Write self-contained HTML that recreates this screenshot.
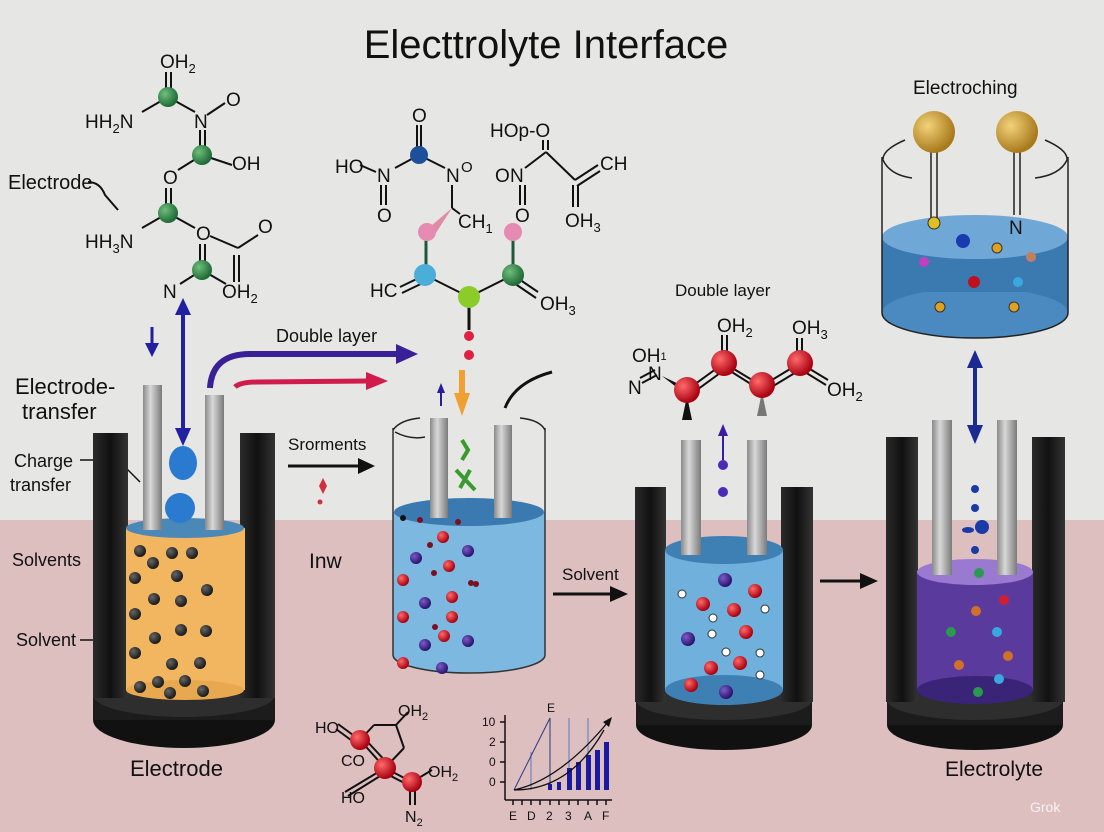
<!DOCTYPE html>
<html><head><meta charset="utf-8"><style>
html,body{margin:0;padding:0;background:#e6e6e4;}
svg{display:block;font-family:"Liberation Sans",sans-serif;}
</style></head><body>
<svg width="1104" height="832" viewBox="0 0 1104 832" xmlns="http://www.w3.org/2000/svg">
<defs>
<radialGradient id="gr" cx="35%" cy="35%" r="65%"><stop offset="0" stop-color="#ff6a6a"/><stop offset="1" stop-color="#a80010"/></radialGradient>
<radialGradient id="gg" cx="35%" cy="35%" r="65%"><stop offset="0" stop-color="#6fbf7c"/><stop offset="1" stop-color="#1f6a36"/></radialGradient>
<radialGradient id="gk" cx="35%" cy="35%" r="65%"><stop offset="0" stop-color="#666"/><stop offset="1" stop-color="#1a1a1a"/></radialGradient>
<radialGradient id="gp" cx="35%" cy="35%" r="65%"><stop offset="0" stop-color="#7a5cc8"/><stop offset="1" stop-color="#2a136e"/></radialGradient>
<radialGradient id="gau" cx="35%" cy="35%" r="65%"><stop offset="0" stop-color="#f3d27a"/><stop offset="1" stop-color="#a87a1c"/></radialGradient>
<linearGradient id="rod" x1="0" x2="1"><stop offset="0" stop-color="#8a8a8a"/><stop offset=".4" stop-color="#d8d8d8"/><stop offset="1" stop-color="#7a7a7a"/></linearGradient>
<linearGradient id="wall" x1="0" x2="1"><stop offset="0" stop-color="#2a2a2a"/><stop offset=".5" stop-color="#111"/><stop offset="1" stop-color="#333"/></linearGradient>
</defs>
<rect x="0" y="0" width="1104" height="520" fill="#e6e6e4"/>
<rect x="0" y="520" width="1104" height="312" fill="#ddbfc0"/>

<text x="546" y="58" font-size="40" text-anchor="middle" fill="#111">Electtrolyte Interface</text>

<!-- molecule 1 -->
<g stroke="#111" stroke-width="2" fill="none">
<line x1="166" y1="72" x2="166" y2="90"/><line x1="171" y1="72" x2="171" y2="90"/>
<line x1="168" y1="97" x2="142" y2="112"/><line x1="168" y1="97" x2="195" y2="112"/>
<line x1="207" y1="115" x2="225" y2="103"/>
<line x1="200" y1="130" x2="200" y2="148"/><line x1="205" y1="130" x2="205" y2="148"/>
<line x1="202" y1="155" x2="232" y2="165"/><line x1="202" y1="155" x2="178" y2="170"/>
<line x1="166" y1="188" x2="166" y2="206"/><line x1="171" y1="188" x2="171" y2="206"/>
<line x1="168" y1="213" x2="142" y2="228"/><line x1="168" y1="213" x2="195" y2="228"/>
<line x1="210" y1="236" x2="238" y2="248"/><line x1="238" y1="248" x2="258" y2="235"/>
<line x1="234" y1="255" x2="234" y2="282"/><line x1="239" y1="255" x2="239" y2="282"/>
<line x1="200" y1="244" x2="200" y2="264"/><line x1="205" y1="244" x2="205" y2="264"/>
<line x1="202" y1="270" x2="180" y2="284"/><line x1="202" y1="270" x2="226" y2="284"/>
<path d="M88 182 Q100 182 105 195 L118 210"/>
</g>
<g font-size="19" fill="#111">
<text x="160" y="68">OH<tspan font-size="13" dy="5">2</tspan></text>
<text x="85" y="128">HH<tspan font-size="13" dy="5">2</tspan><tspan dy="-5">N</tspan></text>
<text x="194" y="128">N</text><text x="226" y="106">O</text>
<text x="232" y="170">OH</text><text x="163" y="184">O</text>
<text x="85" y="248">HH<tspan font-size="13" dy="5">3</tspan><tspan dy="-5">N</tspan></text>
<text x="196" y="240">O</text><text x="258" y="233">O</text>
<text x="163" y="298">N</text><text x="222" y="298">OH<tspan font-size="13" dy="5">2</tspan></text>
<text x="8" y="189" font-size="20">Electrode</text>
</g>
<circle cx="168" cy="97" r="10" fill="url(#gg)"/><circle cx="202" cy="155" r="10" fill="url(#gg)"/>
<circle cx="168" cy="213" r="10" fill="url(#gg)"/><circle cx="202" cy="270" r="10" fill="url(#gg)"/>

<!-- molecule 2 -->
<g stroke="#111" stroke-width="2" fill="none">
<line x1="417" y1="125" x2="417" y2="148"/><line x1="421" y1="125" x2="421" y2="148"/>
<line x1="419" y1="155" x2="395" y2="168"/><line x1="419" y1="155" x2="445" y2="168"/>
<line x1="360" y1="165" x2="376" y2="172"/>
<line x1="381" y1="185" x2="381" y2="205"/><line x1="386" y1="185" x2="386" y2="205"/>
<line x1="452" y1="185" x2="452" y2="208"/><line x1="452" y1="208" x2="460" y2="214"/>
<line x1="543" y1="140" x2="543" y2="150"/><line x1="548" y1="140" x2="548" y2="150"/>
<line x1="546" y1="152" x2="525" y2="168"/><line x1="546" y1="152" x2="575" y2="180"/>
<line x1="575" y1="180" x2="598" y2="165"/><line x1="577" y1="186" x2="600" y2="171"/>
<line x1="573" y1="185" x2="573" y2="207"/><line x1="578" y1="185" x2="578" y2="207"/>
<line x1="520" y1="185" x2="520" y2="205"/><line x1="525" y1="185" x2="525" y2="205"/>
<line x1="425" y1="275" x2="400" y2="287"/><line x1="427" y1="281" x2="402" y2="293"/>
<line x1="425" y1="275" x2="469" y2="297"/><line x1="469" y1="297" x2="513" y2="275"/>
<line x1="513" y1="275" x2="538" y2="292"/><line x1="511" y1="281" x2="536" y2="298"/>
</g>
<g stroke="#1d5a3a" stroke-width="3"><line x1="426" y1="240" x2="426" y2="268"/><line x1="513" y1="240" x2="513" y2="268"/></g>
<line x1="469" y1="300" x2="469" y2="330" stroke="#111" stroke-width="3"/>
<path d="M424 232 L452 208 L434 236 Z" fill="#e08aa8"/>
<g font-size="19" fill="#111">
<text x="412" y="122">O</text><text x="335" y="173">HO</text><text x="377" y="182">N</text>
<text x="377" y="222">O</text><text x="446" y="182">N</text><text x="461" y="172" font-size="15">O</text>
<text x="458" y="228">CH<tspan font-size="13" dy="5">1</tspan></text>
<text x="490" y="137">HOp-O</text><text x="495" y="182">O</text><text x="510" y="182">N</text>
<text x="600" y="170">CH</text><text x="515" y="222">O</text>
<text x="565" y="227">OH<tspan font-size="13" dy="5">3</tspan></text>
<text x="370" y="297">HC</text><text x="540" y="310">OH<tspan font-size="13" dy="5">3</tspan></text>
</g>
<circle cx="427" cy="232" r="9" fill="#e58ab0"/><circle cx="513" cy="232" r="9" fill="#e58ab0"/>
<circle cx="425" cy="275" r="11" fill="#4aaed8"/><circle cx="513" cy="275" r="11" fill="url(#gg)"/>
<circle cx="469" cy="297" r="11" fill="#8ccc2a"/>
<circle cx="469" cy="336" r="5" fill="#e02040"/><circle cx="469" cy="355" r="5" fill="#e02040"/>
<circle cx="419" cy="155" r="9" fill="#1d4f9a"/>

<!-- arrows upper-left -->
<g fill="#2020a0" stroke="#2020a0">
<line x1="152" y1="327" x2="152" y2="345" stroke-width="3"/><path d="M145 343 L159 343 L152 357 Z" stroke="none"/>
<line x1="183" y1="312" x2="183" y2="432" stroke-width="4"/>
<path d="M175 315 L191 315 L183 298 Z" stroke="none"/><path d="M175 428 L191 428 L183 446 Z" stroke="none"/>
</g>
<path d="M210 388 Q212 354 250 354 L398 354" stroke="#3a2096" stroke-width="6" fill="none"/>
<path d="M396 344 L418 354 L396 364 Z" fill="#3a2096"/>
<path d="M235 387 Q240 382 258 382 L368 381" stroke="#d01c4c" stroke-width="5" fill="none"/>
<path d="M366 372 L388 381 L366 390 Z" fill="#d01c4c"/>
<text x="276" y="342" font-size="18" fill="#111">Double layer</text>
<line x1="441" y1="406" x2="441" y2="392" stroke="#2a1ca0" stroke-width="2"/><path d="M437 393 L445 393 L441 383 Z" fill="#2a1ca0"/>
<rect x="459" y="370" width="6" height="25" fill="#f0a030"/><path d="M454 393 L470 393 L462 416 Z" fill="#f0a030"/>
<path d="M505 408 Q515 382 552 372" stroke="#111" stroke-width="3" fill="none"/>

<!-- left labels -->
<g fill="#111">
<text x="15" y="394" font-size="22">Electrode-</text><text x="22" y="419" font-size="22">transfer</text>
<text x="14" y="467" font-size="18">Charge</text><text x="10" y="491" font-size="18">transfer</text>
<text x="12" y="566" font-size="18">Solvents</text><text x="16" y="646" font-size="18">Solvent</text>
<text x="130" y="776" font-size="22">Electrode</text>
<text x="309" y="568" font-size="21">Inw</text>
<text x="288" y="450" font-size="17">Srorments</text>
<text x="562" y="580" font-size="17">Solvent</text>
<text x="675" y="296" font-size="17">Double layer</text>
<text x="913" y="94" font-size="19">Electroching</text>
<text x="945" y="776" font-size="21">Electrolyte</text>
</g>
<g stroke="#111" stroke-width="1.5" fill="none">
<path d="M80 460 L118 460 L140 482"/><path d="M95 559 L118 559"/><path d="M97 564 L105 575 L105 590"/><path d="M80 640 L118 640"/>
</g>

<!-- beaker 1 -->
<ellipse cx="184" cy="720" rx="91" ry="28" fill="#111"/>
<rect x="93" y="695" width="182" height="25" fill="#1c1c1c"/>
<ellipse cx="184" cy="695" rx="91" ry="22" fill="#2e2e2e"/>
<rect x="93" y="433" width="35" height="265" fill="url(#wall)"/>
<rect x="240" y="433" width="35" height="265" fill="url(#wall)"/>
<rect x="126" y="528" width="119" height="162" fill="#f3b660"/>
<ellipse cx="185" cy="690" rx="59" ry="10" fill="#e8a850"/>
<ellipse cx="185" cy="528" rx="59" ry="10" fill="#4a88b8"/>
<rect x="143" y="385" width="19" height="145" fill="url(#rod)"/>
<rect x="205" y="395" width="19" height="135" fill="url(#rod)"/>
<ellipse cx="183" cy="463" rx="14" ry="17" fill="#2a7ad0"/>
<ellipse cx="180" cy="508" rx="15" ry="15" fill="#2a7ad0"/>
<g fill="url(#gk)">
<circle cx="140" cy="551" r="6"/><circle cx="172" cy="553" r="6"/><circle cx="192" cy="553" r="6"/><circle cx="153" cy="563" r="6"/>
<circle cx="135" cy="578" r="6"/><circle cx="177" cy="576" r="6"/><circle cx="207" cy="590" r="6"/><circle cx="154" cy="599" r="6"/>
<circle cx="181" cy="601" r="6"/><circle cx="135" cy="614" r="6"/><circle cx="181" cy="630" r="6"/><circle cx="206" cy="631" r="6"/>
<circle cx="155" cy="638" r="6"/><circle cx="135" cy="653" r="6"/><circle cx="172" cy="664" r="6"/><circle cx="200" cy="663" r="6"/>
<circle cx="158" cy="682" r="6"/><circle cx="140" cy="687" r="6"/><circle cx="185" cy="681" r="6"/><circle cx="170" cy="693" r="6"/><circle cx="203" cy="691" r="6"/>
</g>

<!-- arrows middle -->
<line x1="288" y1="466" x2="360" y2="466" stroke="#111" stroke-width="3"/><path d="M358 458 L375 466 L358 474 Z" fill="#111"/>
<path d="M323 478 L327 486 L323 494 L319 486 Z" fill="#d03040"/><circle cx="320" cy="502" r="2.5" fill="#d03040"/>

<!-- beaker 2 -->
<path d="M393 512 L393 655 A76 18 0 0 0 545 655 L545 512 Z" fill="#7cb8e0"/>
<ellipse cx="469" cy="512" rx="75" ry="14" fill="#3a7ab0"/>
<path d="M393 428 L393 655 A76 18 0 0 0 545 655 L545 428" stroke="#333" stroke-width="1.5" fill="none"/>
<path d="M393 430 Q400 420 420 418 M520 418 Q540 420 545 430 M395 432 Q410 440 425 437" stroke="#222" stroke-width="1.5" fill="none"/>
<rect x="430" y="418" width="18" height="100" fill="url(#rod)"/>
<rect x="494" y="425" width="18" height="93" fill="url(#rod)"/>
<path d="M462 440 L468 450 L462 460 M456 470 L475 490 M470 470 L460 488" stroke="#3a9a30" stroke-width="4" fill="none"/>
<g fill="url(#gr)"><circle cx="443" cy="537" r="6"/><circle cx="449" cy="566" r="6"/><circle cx="403" cy="580" r="6"/><circle cx="452" cy="597" r="6"/><circle cx="403" cy="617" r="6"/><circle cx="452" cy="617" r="6"/><circle cx="444" cy="636" r="6"/><circle cx="403" cy="663" r="6"/></g>
<g fill="url(#gp)"><circle cx="416" cy="558" r="6"/><circle cx="468" cy="551" r="6"/><circle cx="425" cy="603" r="6"/><circle cx="468" cy="641" r="6"/><circle cx="425" cy="645" r="6"/><circle cx="442" cy="668" r="6"/></g>
<g fill="#7a1020"><circle cx="420" cy="520" r="3"/><circle cx="458" cy="522" r="3"/><circle cx="430" cy="545" r="3"/><circle cx="434" cy="573" r="3"/><circle cx="471" cy="583" r="3"/><circle cx="476" cy="584" r="3"/><circle cx="435" cy="627" r="3"/></g>
<circle cx="403" cy="518" r="3" fill="#111"/>

<!-- right double layer molecule -->
<g stroke="#111" stroke-width="2" fill="none">
<line x1="722" y1="335" x2="722" y2="355"/><line x1="727" y1="335" x2="727" y2="355"/>
<line x1="797" y1="338" x2="797" y2="355"/><line x1="802" y1="338" x2="802" y2="355"/>
<line x1="687" y1="390" x2="724" y2="363"/><line x1="690" y1="395" x2="727" y2="368"/>
<line x1="724" y1="363" x2="762" y2="386"/><line x1="727" y1="369" x2="762" y2="391"/>
<line x1="762" y1="386" x2="800" y2="363"/><line x1="765" y1="391" x2="803" y2="368"/>
<line x1="800" y1="363" x2="828" y2="380"/><line x1="800" y1="369" x2="826" y2="385"/>
<line x1="640" y1="378" x2="655" y2="370"/><line x1="642" y1="383" x2="657" y2="375"/>
</g>
<path d="M662 376 L687 388 L684 393 Z" fill="#111"/>
<path d="M687 396 L682 420 L692 420 Z" fill="#111"/><path d="M762 392 L757 416 L767 416 Z" fill="#777"/>
<g font-size="19" fill="#111">
<text x="717" y="332">OH<tspan font-size="13" dy="5">2</tspan></text>
<text x="792" y="334">OH<tspan font-size="13" dy="5">3</tspan></text>
<text x="827" y="396">OH<tspan font-size="13" dy="5">2</tspan></text>
<text x="632" y="362">OH<tspan font-size="11" dy="-2">1</tspan></text>
<text x="648" y="380">N</text><text x="628" y="394">N</text>
</g>
<g fill="url(#gr)"><circle cx="687" cy="390" r="13"/><circle cx="724" cy="363" r="13"/><circle cx="762" cy="385" r="13"/><circle cx="800" cy="363" r="13"/></g>
<line x1="723" y1="460" x2="723" y2="435" stroke="#3a1ca0" stroke-width="2"/><path d="M718 436 L728 436 L723 424 Z" fill="#3a1ca0"/>
<circle cx="723" cy="465" r="5" fill="#4a2ab8"/><circle cx="723" cy="492" r="5" fill="#4a2ab8"/>

<line x1="553" y1="594" x2="612" y2="594" stroke="#111" stroke-width="3"/><path d="M610 586 L628 594 L610 602 Z" fill="#111"/>
<line x1="820" y1="581" x2="862" y2="581" stroke="#111" stroke-width="3"/><path d="M860 573 L878 581 L860 589 Z" fill="#111"/>

<!-- beaker 3 -->
<ellipse cx="724" cy="725" rx="88" ry="25" fill="#111"/>
<rect x="636" y="700" width="176" height="25" fill="#1c1c1c"/>
<ellipse cx="724" cy="700" rx="88" ry="20" fill="#2e2e2e"/>
<rect x="635" y="487" width="31" height="215" fill="url(#wall)"/>
<rect x="781" y="487" width="32" height="215" fill="url(#wall)"/>
<rect x="665" y="550" width="118" height="140" fill="#6fb0dc"/>
<ellipse cx="724" cy="690" rx="59" ry="15" fill="#3e80b4"/>
<ellipse cx="724" cy="550" rx="59" ry="14" fill="#3e80b4"/>
<rect x="681" y="440" width="20" height="115" fill="url(#rod)"/>
<rect x="747" y="440" width="20" height="115" fill="url(#rod)"/>
<g fill="url(#gr)"><circle cx="755" cy="591" r="7"/><circle cx="703" cy="604" r="7"/><circle cx="734" cy="610" r="7"/><circle cx="746" cy="632" r="7"/><circle cx="711" cy="668" r="7"/><circle cx="740" cy="663" r="7"/><circle cx="691" cy="685" r="7"/></g>
<g fill="url(#gp)"><circle cx="725" cy="580" r="7"/><circle cx="688" cy="639" r="7"/><circle cx="726" cy="692" r="7"/></g>
<g fill="#fff" stroke="#333" stroke-width="1"><circle cx="682" cy="594" r="4"/><circle cx="765" cy="609" r="4"/><circle cx="713" cy="618" r="4"/><circle cx="712" cy="634" r="4"/><circle cx="760" cy="653" r="4"/><circle cx="760" cy="675" r="4"/><circle cx="726" cy="652" r="4"/></g>

<!-- beaker 4 -->
<ellipse cx="975" cy="725" rx="88" ry="25" fill="#111"/>
<rect x="887" y="700" width="176" height="25" fill="#1c1c1c"/>
<ellipse cx="975" cy="700" rx="88" ry="20" fill="#2e2e2e"/>
<rect x="886" y="437" width="32" height="265" fill="url(#wall)"/>
<rect x="1032" y="437" width="33" height="265" fill="url(#wall)"/>
<rect x="917" y="572" width="116" height="118" fill="#5a3a9c"/>
<ellipse cx="975" cy="690" rx="58" ry="14" fill="#3a2478"/>
<ellipse cx="975" cy="572" rx="58" ry="13" fill="#9a7ad0"/>
<rect x="932" y="420" width="20" height="155" fill="url(#rod)"/>
<rect x="997" y="420" width="20" height="155" fill="url(#rod)"/>
<g fill="#1a3aa8"><circle cx="975" cy="489" r="4"/><circle cx="975" cy="508" r="4"/><circle cx="975" cy="550" r="4"/><circle cx="982" cy="527" r="7"/><ellipse cx="968" cy="530" rx="6" ry="3"/></g>
<circle cx="979" cy="573" r="5" fill="#2a9a50"/><circle cx="1004" cy="600" r="5" fill="#d02030"/>
<circle cx="976" cy="611" r="5" fill="#d0702a"/><circle cx="951" cy="632" r="5" fill="#2a9a50"/><circle cx="997" cy="632" r="5" fill="#3aa8e0"/>
<circle cx="1008" cy="656" r="5" fill="#d0702a"/><circle cx="959" cy="665" r="5" fill="#d0702a"/><circle cx="999" cy="679" r="5" fill="#3aa8e0"/><circle cx="978" cy="692" r="5" fill="#2a9a50"/>
<line x1="975" y1="365" x2="975" y2="428" stroke="#1a2a90" stroke-width="4"/>
<path d="M967 368 L983 368 L975 350 Z" fill="#1a2a90"/><path d="M967 425 L983 425 L975 444 Z" fill="#1a2a90"/>

<!-- top right beaker -->
<path d="M882 237 L882 313 A93 25 0 0 0 1068 313 L1068 237 Z" fill="#3a7ab0"/>
<ellipse cx="975" cy="313" rx="93" ry="25" fill="#4a8ac0"/>
<rect x="882" y="237" width="186" height="55" fill="#3a7ab0"/>
<ellipse cx="975" cy="237" rx="93" ry="22" fill="#6fa8d6"/>
<path d="M882 157 L882 313 M1068 157 L1068 313 M882 313 A93 25 0 0 0 1068 313" stroke="#222" stroke-width="1.5" fill="none"/>
<path d="M905 140 Q882 150 883 160 Q890 175 912 178 M1045 140 Q1068 150 1067 160 Q1060 175 1035 178" stroke="#222" stroke-width="1.5" fill="none"/>
<g stroke="#222" stroke-width="1.5"><line x1="931" y1="152" x2="931" y2="220"/><line x1="937" y1="152" x2="937" y2="220"/><line x1="1014" y1="152" x2="1014" y2="215"/><line x1="1020" y1="152" x2="1020" y2="215"/></g>
<circle cx="934" cy="132" r="21" fill="url(#gau)"/><circle cx="1017" cy="132" r="21" fill="url(#gau)"/>
<text x="1009" y="234" font-size="19" fill="#111">N</text>
<circle cx="934" cy="223" r="6" fill="#e0c020" stroke="#333"/><circle cx="963" cy="241" r="7" fill="#1a3ab0"/>
<circle cx="997" cy="248" r="5" fill="#e0a020" stroke="#333"/><circle cx="924" cy="262" r="5" fill="#c040c0"/>
<circle cx="1031" cy="257" r="5" fill="#c08060"/><circle cx="974" cy="282" r="6" fill="#c01020"/>
<circle cx="1018" cy="282" r="5" fill="#3aa8e0"/><circle cx="940" cy="307" r="5" fill="#e0a020" stroke="#333"/><circle cx="1014" cy="307" r="5" fill="#e0a020" stroke="#333"/>

<!-- bottom molecule -->
<g stroke="#111" stroke-width="2" fill="none">
<line x1="338" y1="724" x2="357" y2="738"/><line x1="336" y1="729" x2="355" y2="743"/>
<line x1="360" y1="740" x2="374" y2="725"/><line x1="374" y1="725" x2="396" y2="725"/><line x1="396" y1="725" x2="408" y2="712"/>
<line x1="396" y1="725" x2="404" y2="748"/><line x1="404" y1="748" x2="385" y2="768"/>
<line x1="360" y1="740" x2="385" y2="768"/><line x1="364" y1="738" x2="389" y2="765"/>
<line x1="385" y1="768" x2="412" y2="782"/><line x1="385" y1="773" x2="412" y2="787"/>
<line x1="412" y1="782" x2="432" y2="770"/>
<line x1="385" y1="768" x2="345" y2="792"/><line x1="385" y1="773" x2="348" y2="796"/>
<line x1="410" y1="790" x2="410" y2="805"/><line x1="415" y1="790" x2="415" y2="805"/>
</g>
<g font-size="16" fill="#111">
<text x="315" y="733">HO</text><text x="398" y="716">OH<tspan font-size="11" dy="4">2</tspan></text>
<text x="341" y="766">CO</text><text x="341" y="803">HO</text>
<text x="428" y="777">OH<tspan font-size="11" dy="4">2</tspan></text><text x="405" y="822">N<tspan font-size="11" dy="4">2</tspan></text>
</g>
<g fill="url(#gr)"><circle cx="360" cy="740" r="10"/><circle cx="385" cy="768" r="11"/><circle cx="412" cy="782" r="10"/></g>

<!-- chart -->
<g stroke="#111" stroke-width="1.5" fill="none">
<line x1="505" y1="715" x2="505" y2="800"/><line x1="505" y1="800" x2="612" y2="800"/>
<line x1="500" y1="722" x2="505" y2="722"/><line x1="500" y1="742" x2="505" y2="742"/><line x1="500" y1="762" x2="505" y2="762"/><line x1="500" y1="782" x2="505" y2="782"/>
<line x1="513" y1="800" x2="513" y2="805"/><line x1="522" y1="800" x2="522" y2="805"/><line x1="531" y1="800" x2="531" y2="805"/><line x1="540" y1="800" x2="540" y2="805"/><line x1="550" y1="800" x2="550" y2="805"/><line x1="559" y1="800" x2="559" y2="805"/><line x1="569" y1="800" x2="569" y2="805"/><line x1="578" y1="800" x2="578" y2="805"/><line x1="588" y1="800" x2="588" y2="805"/><line x1="597" y1="800" x2="597" y2="805"/><line x1="606" y1="800" x2="606" y2="805"/>
</g>
<g stroke="#5a78c0" stroke-width="1"><line x1="531" y1="752" x2="531" y2="790"/><line x1="550" y1="718" x2="550" y2="790"/><line x1="569" y1="718" x2="569" y2="790"/><line x1="588" y1="718" x2="588" y2="790"/></g>
<path d="M514 790 L550 718 L550 790" stroke="#2a3a80" stroke-width="1" fill="none"/>
<g fill="#1a1aa0"><rect x="548" y="784" width="4" height="6"/><rect x="557" y="782" width="4" height="8"/><rect x="567" y="768" width="5" height="22"/><rect x="576" y="762" width="5" height="28"/><rect x="586" y="755" width="5" height="35"/><rect x="595" y="750" width="5" height="40"/><rect x="604" y="742" width="5" height="48"/></g>
<path d="M514 790 Q560 780 608 722 M514 790 Q570 790 604 730" stroke="#111" stroke-width="1.3" fill="none"/>
<path d="M603 722 L612 717 L609 727 Z" fill="#111"/>
<g font-size="12" fill="#111">
<text x="482" y="726">10</text><text x="489" y="746">2</text><text x="489" y="766">0</text><text x="489" y="786">0</text>
<text x="547" y="712">E</text>
<text x="509" y="820">E</text><text x="527" y="820">D</text><text x="546" y="820">2</text><text x="565" y="820">3</text><text x="584" y="820">A</text><text x="602" y="820">F</text>
</g>
<text x="1030" y="812" font-size="14" fill="#fff" opacity=".8">Grok</text>
</svg>
</body></html>
